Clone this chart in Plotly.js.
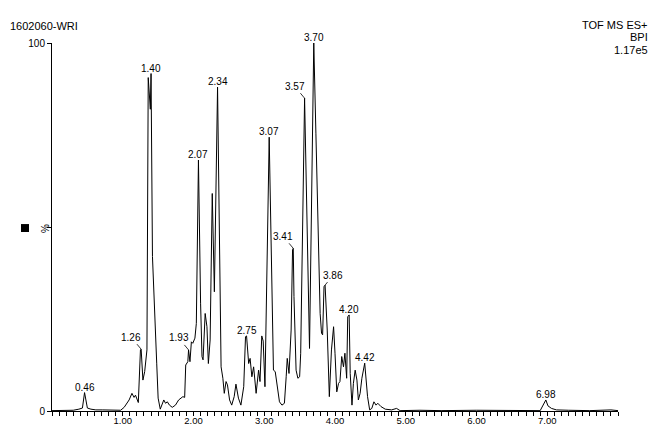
<!DOCTYPE html>
<html>
<head>
<meta charset="utf-8">
<script src="https://cdn.plot.ly/plotly-3.0.1.min.js"></script>
<style>html,body{margin:0;padding:0;background:#fff;}#chart{width:658px;height:427px;}</style>
</head>
<body>
<div id="chart"></div>
<script>
// Retention time (min)
var rt = [0.00,0.10,0.20,0.30,0.38,0.43,0.46,0.50,0.55,0.62,0.71,0.80,0.90,0.97,
  1.02,1.06,1.09,1.13,1.16,1.18,1.22,1.25,1.26,1.285,1.31,1.342,1.36,1.39,1.40,
  1.42,1.44,1.46,1.48,1.50,1.53,1.58,1.605,1.63,1.66,1.70,1.745,1.79,1.85,1.875,
  1.89,1.92,1.93,1.95,1.97,1.99,2.02,2.04,2.07,2.10,2.12,2.135,2.165,2.19,2.21,
  2.235,2.265,2.295,2.34,2.39,2.415,2.435,2.46,2.48,2.51,2.54,2.575,2.60,2.635,
  2.67,2.71,2.735,2.75,2.78,2.80,2.825,2.85,2.885,2.92,2.94,2.965,2.985,3.01,
  3.07,3.105,3.13,3.155,3.18,3.215,3.25,3.285,3.31,3.325,3.35,3.38,3.40,3.41,
  3.42,3.45,3.475,3.50,3.515,3.57,3.64,3.70,3.73,3.76,3.79,3.81,3.825,3.845,3.86,
  3.89,3.92,3.95,3.98,4.00,4.025,4.05,4.07,4.095,4.12,4.14,4.165,4.18,4.20,4.215,
  4.24,4.26,4.285,4.31,4.33,4.355,4.38,4.42,4.435,4.46,4.49,4.52,4.55,4.58,4.605,
  4.65,4.71,4.80,4.87,4.92,5.20,5.50,6.00,6.50,6.90,6.98,7.01,7.06,7.13,7.30,7.60,
  7.90,8.00];
// Base peak intensity (%)
var bpi = [0.1,0.1,0.2,0.2,0.5,0.8,5.0,0.8,0.5,0.3,0.3,0.2,0.2,0.2,
  1.0,2.0,3.0,4.8,3.7,4.3,2.3,16.6,16.8,8.4,10.7,16.6,90.6,82.0,91.7,
  42.0,33.0,26.5,13.0,3.5,0.5,3.0,2.1,2.5,1.6,1.0,1.6,3.0,3.9,3.7,
  12.5,13.4,16.6,13.4,18.8,18.4,19.8,23.8,68.2,29.3,14.8,13.9,26.5,22.9,12.9,
  19.3,59.1,32.4,88.0,12.0,8.9,4.8,8.0,7.1,3.0,1.6,3.9,7.3,3.5,
  1.6,6.6,20.2,20.4,12.9,14.3,9.3,12.0,4.8,11.1,8.0,20.4,19.0,6.6,
  74.4,40.1,11.1,10.7,7.5,2.5,1.6,2.1,9.3,14.3,10.2,22.0,43.8,44.2,
  31.1,11.1,8.9,9.3,15.7,85.0,17.0,100,75.5,49.2,26.5,21.1,20.7,33.8,34.2,
  22.0,3.9,16.6,22.9,15.7,5.2,7.5,8.0,14.8,12.0,15.7,8.9,25.6,26.1,10.2,
  1.6,7.5,11.1,8.4,3.0,4.8,8.9,13.0,8.4,3.9,0.3,0.7,2.5,1.6,2.1,
  1.2,0.5,0.3,0.7,0.1,0.2,0.1,0.2,0.1,0.1,3.0,1.4,0.7,0.3,0.2,0.1,
  0.3,0.1];

// Labelled peaks
var peakRT   = [0.46,1.40,2.07,2.34,2.75,3.07,3.70,4.20,4.42,6.98];
var peakVal  = [5.0,91.7,68.2,88.0,20.4,74.4,100,26.1,13.0,3.0];
var peakText = ['0.46','1.40','2.07','2.34','2.75','3.07','3.70','4.20','4.42','6.98'];
// Labelled peaks with leader lines
var leadRT   = [1.26,1.93,3.41,3.57,3.86];
var leadVal  = [16.8,16.6,44.2,85.0,34.2];
var leadText = ['1.26','1.93','3.41','3.57','3.86'];
var leadDX   = [-10,-10,-10,-10,8];
var leadDY   = [-12,-12,-12,-12,-10];

var xTickVals = [1,2,3,4,5,6,7];
var xTickText = ['1.00','2.00','3.00','4.00','5.00','6.00','7.00'];
var yTickVals = [0,50,100];
var yTickText = ['0','','100'];

var FONT = 'Liberation Sans, Arial, sans-serif';
var ann = [];
for (var i = 0; i < peakRT.length; i++) {
  ann.push({x: peakRT[i], y: peakVal[i], xref:'x', yref:'y', text: peakText[i],
    showarrow:false, yanchor:'bottom', xanchor:'center', yshift:-2,
    font:{family:FONT, size:10, color:'#000'}});
}
for (var j = 0; j < leadRT.length; j++) {
  ann.push({x: leadRT[j], y: leadVal[j], xref:'x', yref:'y', text: leadText[j],
    showarrow:true, arrowhead:0, arrowwidth:0.8, arrowcolor:'#000', standoff:0,
    ax: leadDX[j], ay: leadDY[j],
    font:{family:FONT, size:10, color:'#000'}});
}
ann.push({xref:'paper', yref:'paper', x:-0.0777, y:1.046, xanchor:'left', yanchor:'middle',
  text:'1602060-WRI', showarrow:false, font:{family:FONT, size:11, color:'#000'}});
ann.push({xref:'paper', yref:'paper', x:1.0565, y:1.049, xanchor:'right', yanchor:'middle',
  text:'TOF MS ES+', showarrow:false, font:{family:FONT, size:11, color:'#000'}});
ann.push({xref:'paper', yref:'paper', x:1.0565, y:1.015, xanchor:'right', yanchor:'middle',
  text:'BPI', showarrow:false, font:{family:FONT, size:11, color:'#000'}});
ann.push({xref:'paper', yref:'paper', x:1.0565, y:0.981, xanchor:'right', yanchor:'middle',
  text:'1.17e5', showarrow:false, font:{family:FONT, size:11, color:'#000'}});
ann.push({xref:'paper', yref:'paper', x:-0.0124, y:0.497, xanchor:'center', yanchor:'middle',
  text:'%', textangle:-90, showarrow:false, font:{family:FONT, size:10, color:'#000'}});

var trace = {x: rt, y: bpi, type:'scatter', mode:'lines',
  line:{color:'#000', width:1}, hoverinfo:'skip'};

var layout = {
  width:658, height:427,
  margin:{l:52, r:40, t:43, b:16},
  paper_bgcolor:'#fff', plot_bgcolor:'#fff',
  showlegend:false,
  font:{family:FONT, size:10, color:'#000'},
  xaxis:{range:[0,8.0], showgrid:false, zeroline:false, showline:true, linecolor:'#000', linewidth:1,
    tickmode:'array', tickvals:xTickVals, ticktext:xTickText, ticks:'outside', ticklen:4,
    tickwidth:1, tickcolor:'#000', tickfont:{family:FONT, size:9.5, color:'#000'},
    ticklabelstandoff:-3,
    minor:{dtick:0.1, tick0:0, ticks:'outside', ticklen:4, tickwidth:1, tickcolor:'#000', showgrid:false}},
  yaxis:{range:[0,100], showgrid:false, zeroline:false, showline:true, linecolor:'#000', linewidth:1,
    tickmode:'array', tickvals:yTickVals, ticktext:yTickText, ticks:'outside', ticklen:4,
    tickwidth:1, tickcolor:'#000', tickfont:{family:FONT, size:10, color:'#000'}},
  shapes:[{type:'rect', xref:'paper', yref:'paper', x0:-0.0548, x1:-0.0406, y0:0.4864, y1:0.508,
    fillcolor:'#000', line:{width:0}}],
  annotations: ann
};

Plotly.newPlot('chart', [trace], layout, {staticPlot:true, displayModeBar:false});
</script>
</body>
</html>
